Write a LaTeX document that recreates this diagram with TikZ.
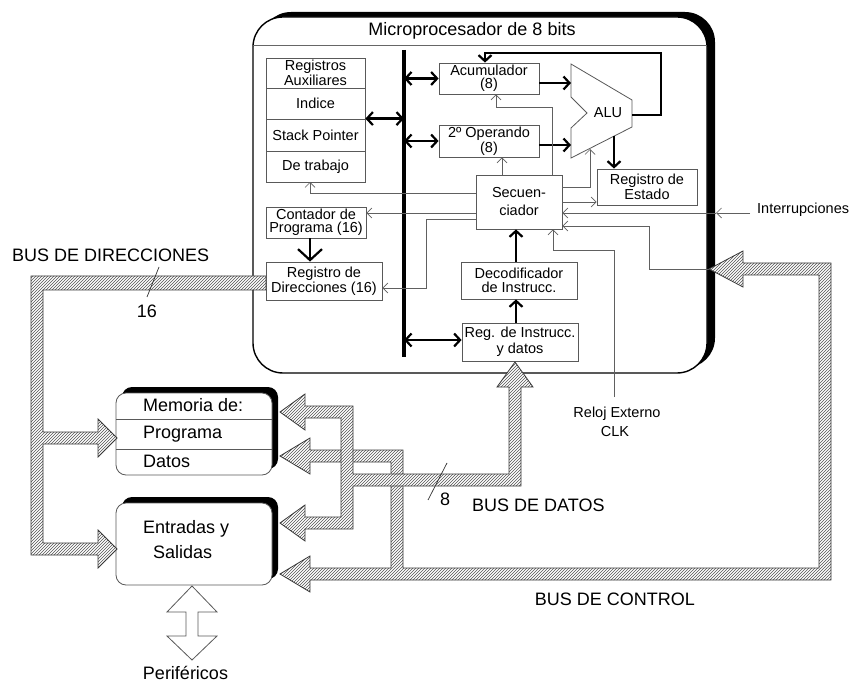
\documentclass[tikz,border=0pt]{standalone}
\usepackage{fontspec}
\setmainfont{Liberation Sans}
\usetikzlibrary{arrows.meta,patterns}
\newcommand\fsbig{\fontsize{18}{19}\selectfont}
\newcommand\fssmall{\fontsize{14.5}{13.5}\selectfont}
\begin{document}
\begin{tikzpicture}[x=1pt,y=-1pt,
 box/.style={draw=gray!70!black, fill=white, line width=0.8pt, inner sep=0pt, align=center, font=\fssmall},
 lbl/.style={inner sep=0pt, font=\fsbig},
 slbl/.style={inner sep=0pt, font=\fssmall},
 ctl/.style={draw=gray!75!black, line width=0.7pt, >={Straight Barb[length=5pt,width=10pt]}, ->},
 thk/.style={line width=2.2pt, >={Straight Barb[length=6pt,width=13pt]}},
 hatch/.style={draw=gray!45!black, line width=0.8pt, preaction={fill=white}, pattern=north east lines, pattern color=gray!65!black},
 outbox/.style={draw=gray!70!black, line width=0.8pt, fill=white, rounded corners=10pt}]
\useasboundingbox[fill=white] (0,0) rectangle (851,684);

% ---------- CPU ----------
\fill[black, rounded corners=30pt] (261,12) rectangle (715,368);
\draw[line width=1.4pt, fill=white, rounded corners=30pt] (253,17) rectangle (707,373);
\node[lbl, anchor=base] (title) at (472,36) {Microprocesador de 8 bits};
\draw[gray!80!black, line width=0.8pt] (253,45) -- (707,45);

% internal bus
\coordinate (bt) at (404,50);
\coordinate (bb) at (404,357);
\draw[line width=4pt] (bt) -- (bb);

% register stack
\node[box, minimum width=99pt, minimum height=30pt] (auxA) at (315.5,73) {Registros\\Auxiliares};
\node[box, minimum width=99pt, minimum height=31pt] (auxB) at (315.5,103.5) {Indice};
\node[box, minimum width=99pt, minimum height=32pt] (auxC) at (315.5,135) {Stack Pointer};
\node[box, minimum width=99pt, minimum height=31pt] (auxD) at (315.5,166.5) {De trabajo};

\node[box, minimum width=100pt, minimum height=31pt] (acc) at (489,78.5) {Acumulador\\(8)};
\node[box, minimum width=100pt, minimum height=32pt] (op2) at (489,141) {2º Operando\\(8)};
\node[box, minimum width=100pt, minimum height=36pt] (est) at (647,187) {Registro de\\Estado};
\node[box, minimum width=86pt, minimum height=54pt, font=\fontsize{14.5}{18}\selectfont] (sec) at (519,202) {Secuen-\\ciador};
\node[box, minimum width=116pt, minimum height=37pt] (dec) at (519,280.5) {Decodificador\\de Instrucc.};
\node[box, minimum width=116pt, minimum height=38pt, font=\fontsize{14.5}{16}\selectfont] (ri) at (520,342) {Reg. de Instrucc.\\y datos};
\node[box, minimum width=100pt, minimum height=31pt] (pc) at (316,222.5) {Contador de\\Programa (16)};
\node[box, minimum width=116pt, minimum height=38pt] (rd) at (324,281) {Registro de\\Direcciones (16)};

% ALU
\draw[draw=gray!70!black, line width=0.8pt, fill=white] (571,64) -- (632,100) -- (632,127) -- (571,158) -- (571,128) -- (587,113) -- (571,97) -- cycle;
\node[slbl] (alu) at (608,113) {ALU};

% thick data arrows
\draw[thk,<->] (auxC.north east) -- (auxC.north east -| bt);
\draw[thk,<->] (bt |- acc.west) -- (acc.west);
\draw[thk,<->] (bt |- op2.west) -- (op2.west);
\draw[thk,<->] (bt |- 0,340) -- (ri.west |- 0,340);
\draw[thk,->] (acc.east |- 0,83) -- (571,83);
\draw[thk,->] (op2.east |- 0,145) -- (571,145);
\draw[thk,->] (614,136) -- (est.north -| 614,0);
\draw[thk,->] (632,115) -- (661,115) -- (661,53) -- (485,53) -- (acc.north -| 485,0);
\draw[thk,->] (ri.north -| 516,0) -- (dec.south -| 516,0);
\draw[thk,->] (dec.north -| 516,0) -- (sec.south -| 516,0);
\draw[line width=2.2pt, -{Straight Barb[length=11pt,width=24pt]}] (pc.south -| 310,0) -- (rd.north -| 310,0);

% thin control lines
\draw[ctl] (sec.west |- 0,193) -| (310,182);
\draw[ctl] (sec.west |- 0,213) -- (pc.east |- 0,213);
\draw[ctl] (sec.west |- 0,219) -- (426,219) |- (rd.east |- 0,288);
\draw[ctl] (sec.north -| 552,0) -- (552,107) -- (496,107) -- (acc.south -| 496,0);
\draw[ctl] (sec.north -| 502,0) -- (op2.south -| 502,0);
\draw[ctl] (sec.east |- 0,187) -| (590,149);
\draw[ctl] (sec.east) -- (est.west |- sec.east);
\coordinate (intrs) at (750,213);
\coordinate (cpur) at (716,213);
\draw[ctl] (intrs) -- (cpur);
\draw[ctl] (cpur) -- (sec.east |- cpur);
\node[slbl, anchor=base west] (intr) at (757,214) {Interrupciones};
\coordinate (ctltip) at (709,269);
\draw[ctl] (ctltip) -- (649,269) |- (sec.east |- 0,226);
\coordinate (clkend) at (614,397);
\draw[ctl] (clkend) |- (553,250) -- (sec.south -| 553,0);
\node[slbl, anchor=base] (clk1) at (617,417) {Reloj Externo};
\node[slbl, anchor=base] (clk2) at (615,436) {CLK};

% ---------- Memory and I/O ----------
\fill[black, rounded corners=10pt] (122,387) rectangle (278,469);
\node[outbox, minimum width=156pt, minimum height=82pt, inner sep=0pt] (mem) at (194,434) {};
\draw[draw=gray!70!black, line width=0.8pt] (116,419) -- (272,419) (116,449) -- (272,449);
\node[lbl, anchor=base west] (mem1) at (143,411) {Memoria de:};
\node[lbl, anchor=base west] (mem2) at (143,438) {Programa};
\node[lbl, anchor=base west] (mem3) at (143,467) {Datos};

\fill[black, rounded corners=10pt] (122,497) rectangle (278,579);
\node[outbox, minimum width=156pt, minimum height=82pt, inner sep=0pt] (es) at (194,544) {};
\node[lbl, anchor=base west] (es1) at (143,533) {Entradas y};
\node[lbl, anchor=base west] (es2) at (153,558) {Salidas};

% ---------- Buses ----------
% control bus
\draw[hatch] (709,269) -- (743,251) -- (743,263) -- (831,263) -- (831,580) -- (310,580) -- (310,592) -- (280,574) -- (310,556) -- (310,568) -- (391,568) -- (391,462) -- (310,462) -- (310,474) -- (280,456) -- (310,438) -- (310,450) -- (403,450) -- (403,568) -- (819,568) -- (819,275) -- (743,275) -- (743,287) -- cycle;
% data bus
\draw[hatch] (515,362) -- (533,387) -- (521,387) -- (521,486) -- (353,486) -- (353,529) -- (305,529) -- (305,541) -- (280,523) -- (305,505) -- (305,517) -- (341,517) -- (341,418) -- (305,418) -- (305,430) -- (280,412) -- (305,394) -- (305,406) -- (353,406) -- (353,474) -- (509,474) -- (509,387) -- (497,387) -- cycle;
% address bus
\draw[hatch] (266,276) -- (31,276) -- (31,555) -- (98,555) -- (98,568) -- (117,549) -- (98,530) -- (98,543) -- (43,543) -- (43,444) -- (98,444) -- (98,457) -- (117,438) -- (98,419) -- (98,432) -- (43,432) -- (43,290) -- (266,290) -- cycle;

% bus labels
\node[lbl, anchor=base west] (busdir) at (12,262) {BUS DE DIRECCIONES};
\draw[gray!40!black, line width=0.7pt] (159,267) -- (147,297);
\node[lbl, anchor=base] (n16) at (147,318) {16};
\draw[gray!40!black, line width=0.7pt] (447,463) -- (428,500);
\node[lbl, anchor=base] (n8) at (445,505) {8};
\node[lbl, anchor=base west] (busdat) at (472,511) {BUS DE DATOS};
\node[lbl, anchor=base east] (busctl) at (695,605) {BUS DE CONTROL};

% peripherals
\draw[draw=gray!70!black, line width=0.8pt, fill=white] (192,586) -- (217,612) -- (198,612) -- (198,636) -- (217,636) -- (192,660) -- (167,636) -- (186,636) -- (186,612) -- (167,612) -- cycle;
\node[lbl, anchor=base] (perif) at (185.5,679) {Periféricos};
\end{tikzpicture}
\end{document}
